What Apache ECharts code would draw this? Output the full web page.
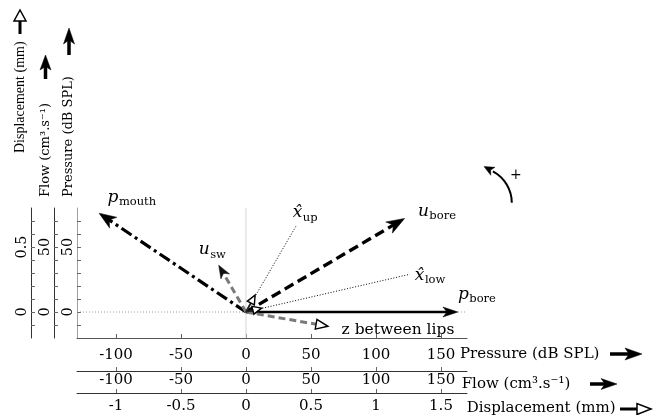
<!DOCTYPE html>
<html><head><meta charset="utf-8">
<script src="https://cdn.jsdelivr.net/npm/echarts@6/dist/echarts.min.js"></script>
<style>html,body{margin:0;padding:0;background:#fff}#c{width:655px;height:415px}</style>
</head><body><div id="c"></div>
<script>
// ---------------- data ----------------
const pressureTickLabels = [-100, -50, 0, 50, 100, 150];
const flowTickLabels = [-100, -50, 0, 50, 100, 150];
const displacementTickLabels = [-1, -0.5, 0, 0.5, 1, 1.5];
const pressureYTickLabels = [0, 50];
const flowYTickLabels = [0, 50];
const displacementYTickLabels = [0, 0.5];
const pressureYTicks = [-10, 0, 10, 20, 30, 40, 50, 60, 70];
const displacementYTicks = [-0.1, 0, 0.1, 0.2, 0.3, 0.4, 0.5, 0.6, 0.7];

// pressure phasors (dB SPL)
const pressureNames = ['p_bore', 'p_mouth'];
const pressureX = [163, -113];
const pressureY = [0, 76];
// flow phasors (cm3/s)
const flowNames = ['u_bore', 'u_sw'];
const flowX = [122, -21];
const flowY = [72, 36];
// displacement phasors (mm)
const displacementNames = ['z', 'x_up', 'x_low'];
const displacementX = [0.63, 0.07, 0.12];
const displacementY = [-0.11, 0.13, 0.03];
// unit direction lines (mm)
const directionNames = ['xhat_up', 'xhat_low'];
const directionX = [0.39, 1.26];
const directionY = [0.67, 0.29];
// reference lines (pressure units)
const refX1 = [0, -130], refY1 = [-20, 0], refX2 = [0, 170], refY2 = [80, 0];

// ---------------- styles ----------------
const FF = '"DejaVu Serif", serif';
const FN = '"Liberation Serif", serif';
const vectorStyle = {
  p_bore:  {stroke: '#000', width: 2.6, head: 'filled', L: 15, W: 10, fill: '#000'},
  p_mouth: {stroke: '#000', width: 3.2, dash: [12, 4, 3, 4], head: 'filled', L: 17, W: 13, fill: '#000'},
  u_bore:  {stroke: '#000', width: 3.4, dash: [10, 5], head: 'filled', L: 18, W: 13, fill: '#000'},
  u_sw:    {stroke: '#7a7a7a', width: 3, dash: [7, 4], head: 'filled', L: 13, W: 10, fill: '#111'},
  z:       {stroke: '#7a7a7a', width: 3, dash: [7, 4], head: 'open', L: 12, W: 10},
  x_up:    {stroke: '#222', width: 1.8, head: 'open', L: 9, W: 8},
  x_low:   {stroke: '#222', width: 1.8, head: 'open', L: 9, W: 8},
  xhat_up: {stroke: '#000', width: 1, dash: [1, 1.8], head: 'none'},
  xhat_low:{stroke: '#000', width: 1, dash: [1, 1.8], head: 'none'}
};
const vectorLabel = {
  p_mouth: {main: 'p', sub: 'mouth', dx: 8.4, dy: -15.8},
  p_bore:  {main: 'p', sub: 'bore', dx: 0, dy: -17.7},
  u_bore:  {main: 'u', sub: 'bore', dx: 13.3, dy: -7.1},
  u_sw:    {main: 'u', sub: 'sw', dx: -20, dy: -15.5},
  xhat_up: {main: 'x\u0302', sub: 'up', dx: -4, dy: -12.2},
  xhat_low:{main: 'x\u0302', sub: 'low', dx: 5, dy: 1.2},
  z:       {plain: 'z between lips', dx: 13.7, dy: 4}
};

const mctx = document.createElement('canvas').getContext('2d');
function measure(t, font) { mctx.font = font; return mctx.measureText(t).width; }
function txt(t, x, y, style, size) {
  return {type: 'text', x: x, y: y, style: {text: t, fill: '#000', fontFamily: FF, fontStyle: style, fontSize: size, align: 'left', verticalAlign: 'middle'}};
}

function makeRender(names) {
  return function (params, api) {
    const name = names[params.dataIndex];
    const st = vectorStyle[name];
    const o = api.coord([0, 0]);
    const t = api.coord([api.value(0), api.value(1)]);
    const dx = t[0] - o[0], dy = t[1] - o[1];
    const len = Math.hypot(dx, dy) || 1;
    const ux = dx / len, uy = dy / len, px = -uy, py = ux;
    const children = [];
    let ex = t[0], ey = t[1];
    if (st.head !== 'none') {
      const back = st.head === 'open' ? st.L : st.L * 0.6;
      ex = t[0] - ux * back; ey = t[1] - uy * back;
    }
    const ls = {stroke: st.stroke, lineWidth: st.width, lineCap: 'butt', fill: null};
    if (st.dash) ls.lineDash = st.dash;
    children.push({type: 'line', shape: {x1: o[0], y1: o[1], x2: ex, y2: ey}, style: ls});
    if (st.head !== 'none') {
      const bx = t[0] - ux * st.L, by = t[1] - uy * st.L;
      const h = st.W / 2;
      if (st.head === 'filled') {
        children.push({type: 'polygon', shape: {points: [
          [t[0], t[1]], [bx + px * h, by + py * h],
          [t[0] - ux * st.L * 0.72, t[1] - uy * st.L * 0.72], [bx - px * h, by - py * h]]},
          style: {fill: st.fill, stroke: st.fill, lineWidth: 0.5}});
      } else {
        children.push({type: 'polygon', shape: {points: [
          [t[0], t[1]], [bx + px * h, by + py * h], [bx - px * h, by - py * h]]},
          style: {fill: '#fff', stroke: '#000', lineWidth: 1.4}});
      }
    }
    const lab = vectorLabel[name];
    if (lab) {
      const lx = t[0] + lab.dx, ly = t[1] + lab.dy;
      if (lab.plain) {
        children.push(txt(lab.plain, lx, ly, 'normal', 15.5));
      } else {
        children.push(txt(lab.main, lx, ly, 'italic', 17));
        const w = measure(lab.main, 'italic 17px ' + FF);
        children.push(txt(lab.sub, lx + w + 0.5, ly + 5, 'normal', 11.5));
      }
    }
    return {type: 'group', children: children};
  };
}

function refRender(params, api) {
  const i = params.dataIndex;
  const a = api.coord([refX1[i], refY1[i]]);
  const b = api.coord([refX2[i], refY2[i]]);
  const style = i === 0 ? {stroke: '#d4d4d4', lineWidth: 1} : {stroke: '#9a9a9a', lineWidth: 1, lineDash: [1, 2]};
  return {type: 'line', shape: {x1: a[0], y1: a[1], x2: b[0], y2: b[1]}, style: style};
}

function zip(xs, ys) { return xs.map((x, i) => [x, ys[i]]); }

function xAxisCfg(min, max, offset, ticks, margin, color) {
  return {
    type: 'value', min: min, max: max, position: 'bottom', offset: offset,
    axisLine: {show: true, onZero: false, lineStyle: {color: color, width: 1}},
    axisTick: {show: true, inside: true, length: 4, customValues: ticks, lineStyle: {color: '#666'}},
    axisLabel: {show: true, customValues: ticks, margin: margin, color: '#000', fontFamily: FF, fontSize: 15},
    splitLine: {show: false}
  };
}
function yAxisCfg(min, max, interval, offset, ticks, labels, color) {
  return {
    type: 'value', min: min, max: max, interval: interval, position: 'left', offset: offset,
    axisLine: {show: true, onZero: false, lineStyle: {color: color, width: 1}},
    axisTick: {show: true, inside: true, length: 4, customValues: ticks, lineStyle: {color: '#666'}},
    axisLabel: {show: true, customValues: labels, rotate: 90, margin: 1.5, color: '#000', fontFamily: FF, fontSize: 14.5},
    splitLine: {show: false}
  };
}

const chart = echarts.init(document.getElementById('c'), null, {renderer: 'canvas'});
chart.setOption({
  animation: false,
  backgroundColor: '#fff',
  grid: {left: 77, right: 188, top: 208, bottom: 77, containLabel: false, outerBoundsMode: 'none'},
  xAxis: [
    xAxisCfg(-130, 170, 0, pressureTickLabels, 9.5, '#555'),
    xAxisCfg(-130, 170, 33, flowTickLabels, 1.5, '#333'),
    xAxisCfg(-1.3, 1.7, 55, displacementTickLabels, 6, '#333')
  ],
  yAxis: [
    yAxisCfg(-20, 80, 10, 0, pressureYTicks, pressureYTickLabels, '#a0a0a0'),
    yAxisCfg(-20, 80, 10, 23, pressureYTicks, flowYTickLabels, '#333'),
    yAxisCfg(-0.2, 0.8, 0.1, 46, displacementYTicks, displacementYTickLabels, '#333')
  ],
  series: [
    {type: 'custom', name: 'reference', coordinateSystem: 'cartesian2d', xAxisIndex: 0, yAxisIndex: 0,
     clip: false, encode: {x: 0, y: 1}, data: zip(refX2, refY2), renderItem: refRender, silent: true},
    {type: 'custom', name: 'direction', coordinateSystem: 'cartesian2d', xAxisIndex: 2, yAxisIndex: 2,
     clip: false, encode: {x: 0, y: 1}, data: zip(directionX, directionY), renderItem: makeRender(directionNames)},
    {type: 'custom', name: 'pressure', coordinateSystem: 'cartesian2d', xAxisIndex: 0, yAxisIndex: 0,
     clip: false, encode: {x: 0, y: 1}, data: zip(pressureX, pressureY), renderItem: makeRender(pressureNames)},
    {type: 'custom', name: 'flow', coordinateSystem: 'cartesian2d', xAxisIndex: 1, yAxisIndex: 1,
     clip: false, encode: {x: 0, y: 1}, data: zip(flowX, flowY), renderItem: makeRender(flowNames)},
    {type: 'custom', name: 'displacement', coordinateSystem: 'cartesian2d', xAxisIndex: 2, yAxisIndex: 2,
     clip: false, encode: {x: 0, y: 1}, data: zip(displacementX, displacementY), renderItem: makeRender(displacementNames)}
  ]
});

// ---------------- axis titles, arrow glyphs, rotation indicator ----------------
function hText(t, x, y, size) {
  return {type: 'text', x: x, y: y, style: {text: t, fill: '#000', fontFamily: FF, fontSize: size, align: 'left', verticalAlign: 'middle'}};
}
function vText(t, x, y, size, fam) {
  return {type: 'text', x: x, y: y, rotation: Math.PI / 2,
    style: {text: t, fill: '#000', fontFamily: fam, fontSize: size, align: 'left', verticalAlign: 'middle'}};
}
function shaft(x1, y1, x2, y2, w) {
  return {type: 'line', shape: {x1: x1, y1: y1, x2: x2, y2: y2}, style: {stroke: '#000', lineWidth: w}};
}
function poly(pts, open) {
  return {type: 'polygon', shape: {points: pts}, style: open ? {fill: '#fff', stroke: '#000', lineWidth: 1.5} : {fill: '#000', stroke: '#000', lineWidth: 0.5}};
}

const rotCenter = [177, 84];
const rc = chart.convertToPixel({xAxisIndex: 0, yAxisIndex: 0}, rotCenter);
const R = 35.7, endA = -62 * Math.PI / 180;
const bX = rc[0] + R * Math.cos(endA), bY = rc[1] + R * Math.sin(endA);
const tX = Math.sin(endA), tY = -Math.cos(endA);
const pX = -tY, pY = tX;

chart.setOption({
  graphic: [
    hText('Pressure (dB SPL)', 460, 354, 15),
    hText('Flow (cm³.s⁻¹)', 461.7, 384, 15),
    hText('Displacement (mm)', 466.7, 408, 15),
    shaft(610, 354, 629, 354, 3.5),
    poly([[642, 354], [625, 348], [629, 354], [625, 360]]),
    shaft(590, 384, 605, 384, 3.5),
    poly([[617, 384], [601, 378.5], [605, 384], [601, 389.5]]),
    shaft(620, 409, 637, 409, 3),
    poly([[651, 409], [637, 403.5], [637, 414.5]], true),

    vText('Displacement (mm)', 20, 153, 14, FN),
    vText('Flow (cm³.s⁻¹)', 46, 197, 13, FF),
    vText('Pressure (dB SPL)', 69, 197, 13, FF),
    shaft(20, 34, 20, 21, 3),
    poly([[20, 10], [14, 21], [26, 21]], true),
    shaft(45.5, 79, 45.5, 66, 3.5),
    poly([[45.5, 55], [40, 70], [45.5, 66.5], [51, 70]]),
    shaft(69, 55, 69, 40, 3.5),
    poly([[69, 28], [63.5, 44], [69, 40], [74.5, 44]]),

    {type: 'arc', shape: {cx: rc[0], cy: rc[1], r: R, startAngle: 0, endAngle: endA, clockwise: false},
     style: {stroke: '#000', lineWidth: 2, fill: null}},
    poly([[bX + tX * 10, bY + tY * 10], [bX + pX * 4.5, bY + pY * 4.5], [bX + tX * 2.5, bY + tY * 2.5], [bX - pX * 4.5, bY - pY * 4.5]]),
    hText('+', rc[0] + 34, rc[1] - 27, 14)
  ]
});
</script></body></html>
